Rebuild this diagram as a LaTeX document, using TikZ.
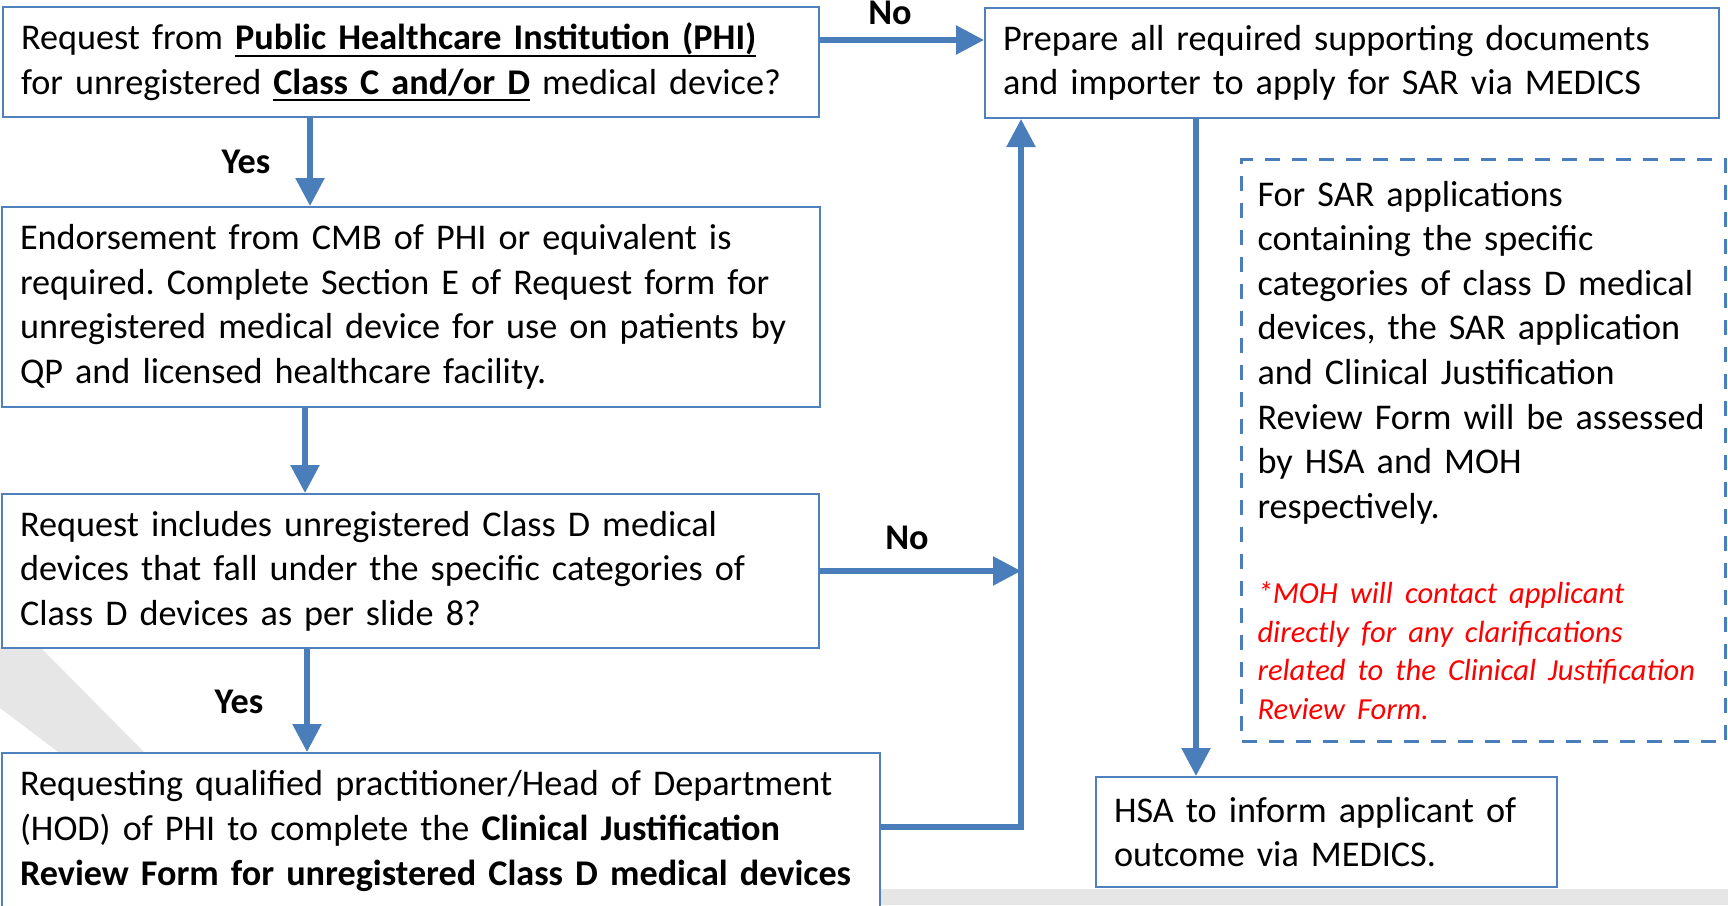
\documentclass[tikz,border=0pt]{standalone}
\usepackage{fontspec}
\setmainfont{Carlito}
\usetikzlibrary{arrows.meta}
\definecolor{boxblue}{HTML}{4F81BD}
\definecolor{arrblue}{HTML}{4A7EBB}
\definecolor{bggray}{HTML}{E6E6E6}
\definecolor{notered}{HTML}{FF0000}
\newcommand{\undl}[1]{\setbox0\hbox{#1}\rlap{\rule[-3.5pt]{\wd0}{1pt}}\box0\relax}
\frenchspacing

\begin{document}
\begin{tikzpicture}[x=0.5pt,y=-0.5pt,
    box/.style={draw=boxblue,line width=1pt,fill=white,anchor=north west,align=left,
        inner xsep=9pt,inner ysep=0pt,font=\fontsize{18.1}{22.3}\selectfont},
    lbl/.style={font=\fontsize{18.1}{21}\selectfont\bfseries},
    arr/.style={draw=arrblue,line width=2.75pt,-{Triangle[length=14pt,width=14pt]}}]
    \useasboundingbox (0,0) rectangle (1728,905);

    % slide background
    \fill[bggray] (0,647)--(40,647)--(144,752)--(58,752)--(0,708)--cycle;
    \fill[bggray] (880,889) rectangle (1728,905);

    % left column
    \node[box,minimum width=408pt,minimum height=55pt,text width=390pt] (q1) at (2,6)
        {Request from \undl{\textbf{Public Healthcare Institution (PHI)}}\\
         for unregistered \undl{\textbf{Class C and/or D}} medical device?};
    \node[box,minimum width=409pt,minimum height=100pt,text width=391pt] (endorse) at (1,206)
        {Endorsement from CMB of PHI or equivalent is\\
         required. Complete Section E of Request form for\\
         unregistered medical device for use on patients by\\
         QP and licensed healthcare facility.};
    \node[box,minimum width=408.5pt,minimum height=77pt,text width=390.5pt] (incl) at (1,493)
        {Request includes unregistered Class D medical\\
         devices that fall under the specific categories of\\
         Class D devices as per slide 8?};
    \node[box,minimum width=439pt,minimum height=78pt,text width=421pt] (cjr) at (1,752)
        {Requesting qualified practitioner/Head of Department\\
         (HOD) of PHI to complete the \textbf{Clinical Justification}\\
         \textbf{Review Form for unregistered Class D medical devices}};

    % right column
    \node[box,minimum width=367pt,minimum height=55pt,text width=349pt] (prep) at (984,7)
        {Prepare all required supporting documents\\
         and importer to apply for SAR via MEDICS};
    \node[box,draw=arrblue,line width=1.5pt,dash pattern=on 7.5pt off 6pt,
        minimum width=242pt,minimum height=291pt,text width=226pt,inner xsep=8pt] (note) at (1240,158)
        {For SAR applications\\ containing the specific\\ categories of class D medical\\
         devices, the SAR application\\ and Clinical Justification\\
         Review Form will be assessed\\ by HSA and MOH\\ respectively.\par
         \vspace{23pt}
         {\color{notered}\itshape\fontsize{15.3}{19.45}\selectfont
         *MOH will contact applicant\\ directly for any clarifications\\
         related to the Clinical Justification\\ Review Form.\par}};
    \node[box,minimum width=230.5pt,minimum height=55pt,text width=212.5pt] (hsa) at (1095,776)
        {HSA to inform applicant of\\ outcome via MEDICS.};

    \coordinate (ret) at (1021,827);

    % connectors
    \draw[arr] ([yshift=-17pt]q1.north east) -- ([yshift=-17pt]q1.north east -| prep.west);
    \node[lbl] (no1) at (890,13) {No};
    \draw[arr] ([xshift=154pt]q1.south west) -- ([xshift=154pt]q1.south west |- endorse.north);
    \node[lbl] (yes1) at (246,162) {Yes};
    \draw[arr] ([xshift=152pt]endorse.south west) -- ([xshift=152pt]endorse.south west |- incl.north);
    \draw[arr] ([xshift=153pt]incl.south west) -- ([xshift=153pt]incl.south west |- cjr.north);
    \node[lbl] (yes2) at (239,702) {Yes};
    \draw[arr] (incl.east) -- (incl.east -| ret);
    \node[lbl] (no2) at (907,538) {No};
    \draw[arr] (cjr.east |- ret) -- (ret) -- (ret |- prep.south);
    \draw[arr] ([xshift=106pt]prep.south west) -- ([xshift=106pt]prep.south west |- hsa.north);
\end{tikzpicture}
\end{document}
